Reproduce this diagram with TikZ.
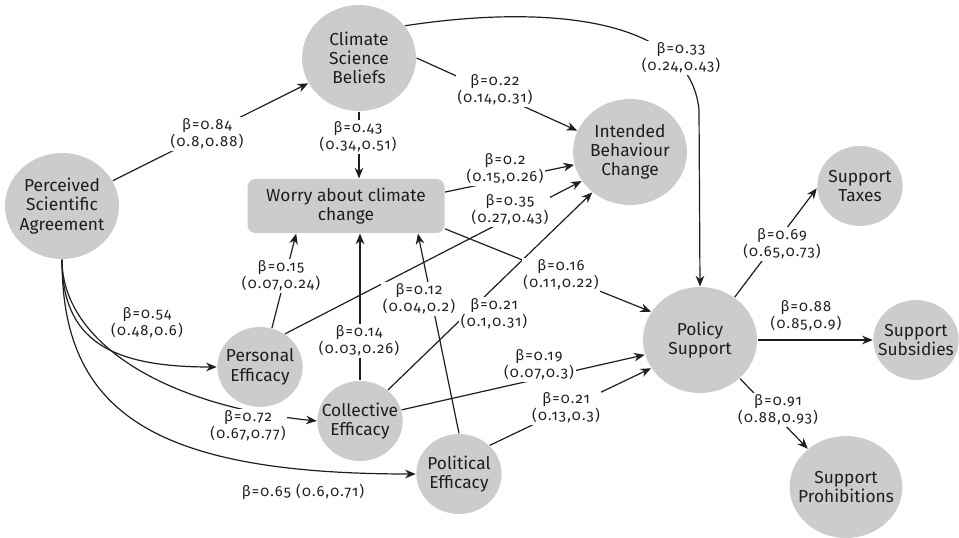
\documentclass[tikz,border=0pt]{standalone}
\usepackage{fontspec}
\setmainfont{Fira Sans}[Numbers=OldStyle]
\newfontfamily\coeffont{Fira Sans}[Numbers=OldStyle,LetterSpace=8]
\usetikzlibrary{arrows.meta,shapes.geometric}
\definecolor{nodegray}{RGB}{204,204,204}
\definecolor{inkgray}{RGB}{30,30,30}

\tikzset{every picture/.style={line width=0.9pt}}
\tikzset{
  var/.style={ellipse, fill=nodegray, inner sep=-6pt, align=center, text=inkgray,
    font=\fontsize{13}{14.5}\selectfont},
  bigvar/.style={var, minimum width=85.5pt, minimum height=79.5pt},
  smallvar/.style={var, minimum width=64pt, minimum height=60pt},
  worrybox/.style={rectangle, rounded corners=6pt, fill=nodegray, align=center, text=inkgray,
    minimum width=147.75pt, minimum height=40.5pt, font=\fontsize{13}{14.5}\selectfont},
  link/.style={draw=inkgray, -{Stealth[length=8pt,width=6.5pt]}},
  coef/.style={fill=white, inner sep=1.2pt, align=center, text=inkgray,
    font=\coeffont\fontsize{11}{11.6}\selectfont},
}

\begin{document}
\begin{tikzpicture}[x=0.75pt,y=0.75pt,yscale=-1,xscale=1]
	\useasboundingbox (0,0) rectangle (959,538);

	%Shape: Ellipse
	\node[bigvar] (agree) at (62,206) {Perceived\\Scientific\\Agreement};
	\node[bigvar] (beliefs) at (359,58) {Climate\\Science\\Beliefs};
	\node[bigvar] (behav) at (630,152) {Intended\\Behaviour\\Change};
	\node[bigvar] (policy) at (700,340) {Policy\\Support};
	\node[smallvar] (personal) at (260,367) {Personal\\Efficacy};
	\node[smallvar] (collective) at (360,421) {Collective\\Efficacy};
	\node[smallvar] (political) at (459,474) {Political\\Efficacy};
	\node[smallvar] (taxes) at (860,186) {Support\\Taxes};
	\node[smallvar] (subsidies) at (916,340) {Support\\Subsidies};
	\node[bigvar, minimum width=81pt, minimum height=76.5pt] (prohib) at (846,487) {Support\\Prohibitions};
	%Shape: Rectangle
	\node[worrybox] (worry) at (346,206) {Worry about climate\\change};

	%Straight Lines
	\draw[link] (agree) -- (beliefs);
	\draw[link] (beliefs.south) -- (beliefs.south |- worry.north);
	\draw[link] (beliefs.east) -- (behav.158);
	\draw[link] (worry.8) -- (behav.193);
	\draw[link] (worry.347) -- (policy.150);
	\draw[link] (personal.73) -- (worry.209);
	\draw[link] (personal.53) -- (behav.211);
	\draw[link] (collective.north) -- (collective.north |- worry.south);
	\draw[link] (collective.48) -- (behav.227);
	\draw[link] (collective.15) -- (policy.195);
	\draw[link] (political.north) -- (worry.339);
	\draw[link] (political.43) -- (policy.210);
	\draw[link] (policy.51) -- (taxes.183);
	\draw[link] (policy.east) -- (subsidies.west);
	\draw[link] (policy.316) -- (prohib.135);

	%Curve Lines
	\coordinate (bend) at (699,110);
	\draw[link] (beliefs.35) .. controls (540,5) and (690,15) .. (bend) -- (policy.north);
	\draw[link] (agree.south) .. controls (62,340) and (110,367) .. (personal.west);
	\draw[link] (agree.south) .. controls (62,340) and (160,405) .. (collective.west);
	\draw[link] (agree.south) .. controls (62,410) and (150,474) .. (political.west);

	% Text Node
	\node[coef] (c84) at (207,134) {β=0.84\\(0.8,0.88)};
	\node[coef] (c43) at (358,137) {β=0.43\\(0.34,0.51)};
	\node[coef] (c22) at (495,90) {β=0.22\\(0.14,0.31)};
	\node[coef] (c33) at (681,58) {β=0.33\\(0.24,0.43)};
	\node[coef] (c20) at (505,169) {β=0.2\\(0.15,0.26)};
	\node[coef] (c35) at (510,210) {β=0.35\\(0.27,0.43)};
	\node[coef] (c15) at (281,276) {β=0.15\\(0.07,0.24)};
	\node[coef] (c16) at (561,275) {β=0.16\\(0.11,0.22)};
	\node[coef] (c12) at (419,299) {β=0.12\\(0.04,0.2)};
	\node[coef] (c21a) at (494,314) {β=0.21\\(0.1,0.31)};
	\node[coef] (c14) at (359,341) {β=0.14\\(0.03,0.26)};
	\node[coef] (c19) at (539,365) {β=0.19\\(0.07,0.3)};
	\node[coef] (c21b) at (566,408) {β=0.21\\(0.13,0.3)};
	\node[coef] (c54) at (147,323) {β=0.54\\(0.48,0.6)};
	\node[coef] (c72) at (248,426) {β=0.72\\(0.67,0.77)};
	\node[coef] (c65) at (303,492) {β=0.65 (0.6,0.71)};
	\node[coef] (c69) at (782,244) {β=0.69\\(0.65,0.73)};
	\node[coef] (c88) at (806,316) {β=0.88\\(0.85,0.9)};
	\node[coef] (c91) at (778,410) {β=0.91\\(0.88,0.93)};

\end{tikzpicture}
\end{document}
